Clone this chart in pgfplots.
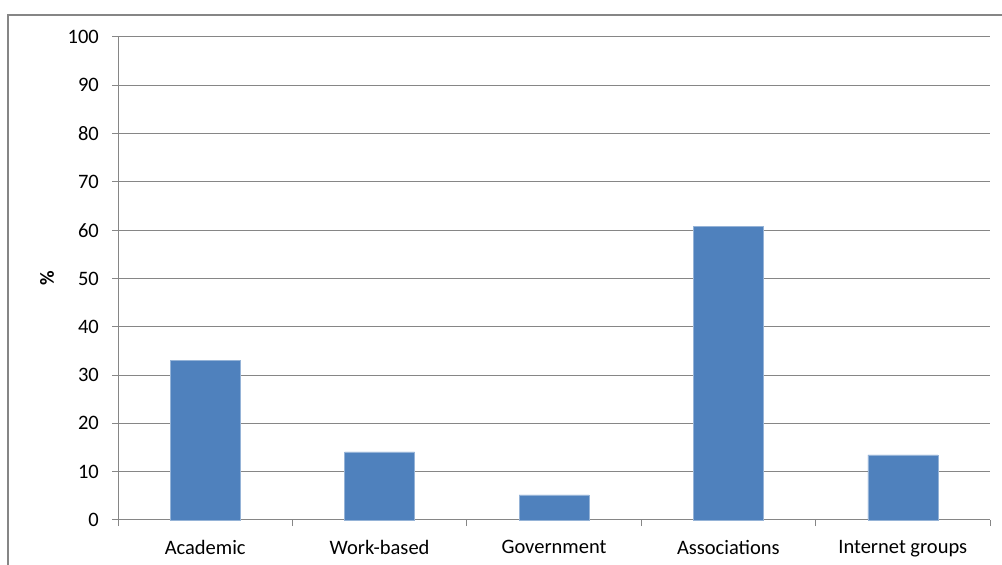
\documentclass[border=0pt]{standalone}
\usepackage{fontspec}
\setmainfont{Carlito}
\usepackage{pgfplots}
\pgfplotsset{compat=1.18}
\definecolor{barblue}{RGB}{79,129,189}
\definecolor{axgray}{RGB}{134,134,134}
\begin{document}
\begin{tikzpicture}[x=1pt,y=1pt]
\useasboundingbox (0,0) rectangle (1002,565);
\draw[axgray, line width=1.2pt] (8,0) -- (8,550) -- (1002,550);
\begin{axis}[
  at={(118pt,45pt)}, anchor=south west,
  scale only axis, width=872pt, height=483pt,
  xmin=0, xmax=5, ymin=0, ymax=100,
  axis lines*=left,
  axis line style={axgray, line width=1pt},
  ytick={0,10,...,100},
  ymajorgrids, grid style={axgray, line width=1pt},
  xtick={0.5,1.5,2.5,3.5,4.5},
  xticklabels={Academic,Work-based,Government,Associations,Internet groups},
  minor xtick={0,1,2,3,4,5},
  tick align=outside,
  major x tick style={draw=none},
  minor tick length=6pt, major tick length=6pt,
  every tick/.style={axgray, line width=1pt},
  tick label style={font=\fontsize{20.5}{24}\selectfont, black},
  /pgf/number format/assume math mode=true,
  yticklabel style={inner sep=0pt, xshift=-13pt},
  xticklabel style={inner sep=0pt, yshift=-14pt},
  ylabel={\textbf{\%}},
  ylabel style={font=\fontsize{20}{24}\selectfont, at={(axis description cs:-0.0814,0.5)}, anchor=center},
  clip=false,
]
\addplot[ybar, bar width=70pt, fill=barblue, draw=barblue!60!white, line width=0.5pt] coordinates {
(0.5,33.0) (1.5,14.1) (2.5,5.2) (3.5,60.8) (4.5,13.5)
};
\end{axis}
\end{tikzpicture}
\end{document}
